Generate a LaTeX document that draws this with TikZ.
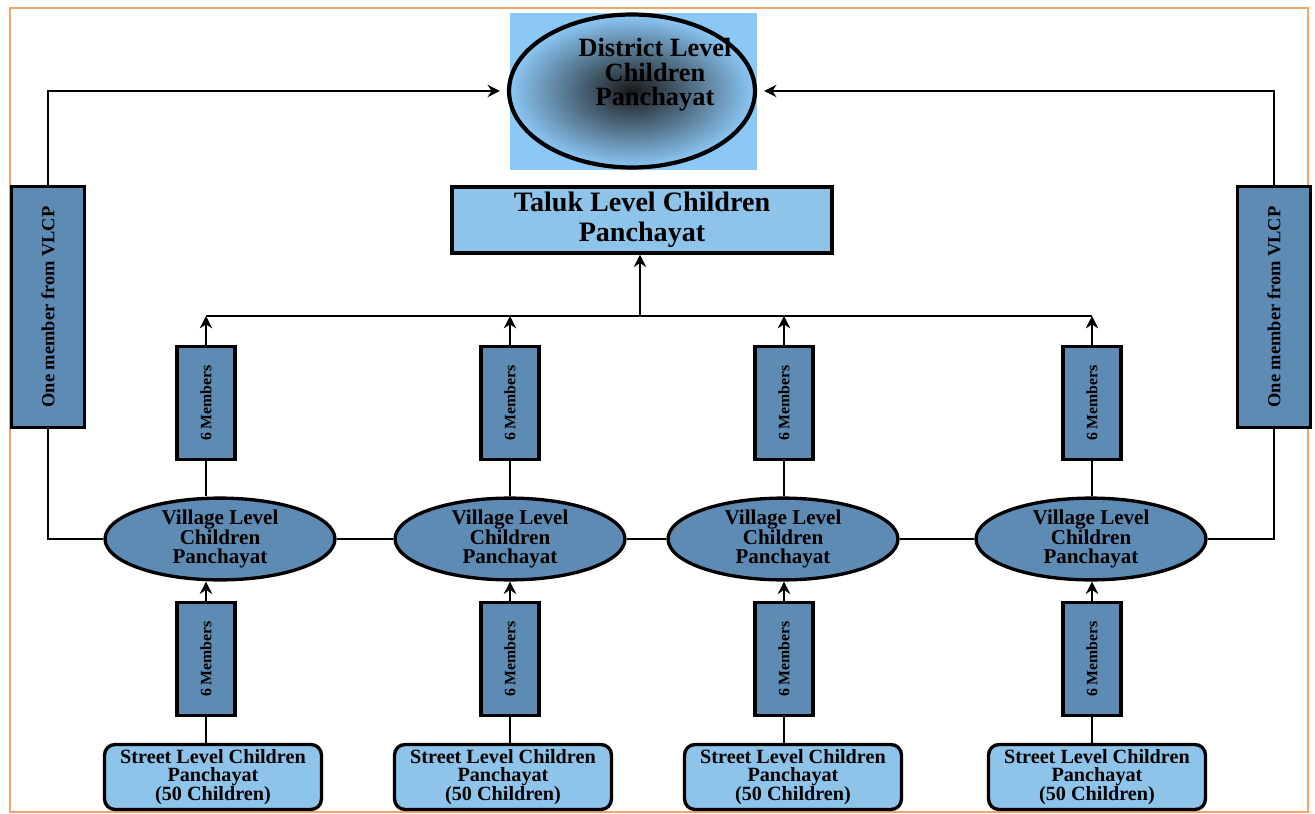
\documentclass[tikz,border=0pt]{standalone}
\usepackage{fontspec}
\setmainfont{Liberation Serif}
\usetikzlibrary{shapes.geometric,arrows.meta}

\definecolor{framecol}{HTML}{F4A46A}
\definecolor{paleblue}{HTML}{8CC8F6}
\definecolor{skyfill}{HTML}{8EC3EA}
\definecolor{steelfill}{HTML}{5E8BB3}

\begin{document}
\begin{tikzpicture}[x=0.02cm,y=-0.02cm,>={Stealth[length=7pt,width=7pt]}]

          \useasboundingbox (0,0) rectangle (1315,814);
          \draw[framecol, line width=0.8pt] (10,8) rectangle (1308,812);
          \fill[paleblue] (510,13) rectangle (757,170);

          \begin{scope}[every node/.style={draw, line width=1.9pt, inner sep=0pt, align=center, font=\bfseries}]
            % district and taluk
            \node[ellipse, line width=2.4pt, minimum width=4.92cm, minimum height=3.06cm,
                  inner color=black!90, outer color=paleblue] (d) at (632,91) {};
            \node[fill=skyfill, minimum width=7.6cm, minimum height=1.32cm,
                  font=\fontsize{16}{17}\bfseries] (t) at (642,220) {Taluk Level Children\\Panchayat};

            % side boxes
            \node[fill=steelfill, minimum width=4.82cm, minimum height=1.46cm, rotate=90,
                  font=\fontsize{10.5}{11}\bfseries] (l) at (48,307) {One member from VLCP};
            \node[fill=steelfill, minimum width=4.82cm, minimum height=1.46cm, rotate=90,
                  font=\fontsize{10.5}{11}\bfseries] (r) at (1274,307) {One member from VLCP};
          \end{scope}

          \begin{scope}[every node/.style={draw, line width=1.9pt, inner sep=0pt, align=center,
                        fill=steelfill, rotate=90, minimum width=2.26cm, minimum height=1.16cm,
                        font=\fontsize{9}{9}\bfseries}]
            \node (u1) at (206,403) {6 Members};
            \node (u2) at (510,403) {6 Members};
            \node (u3) at (784,403) {6 Members};
            \node (u4) at (1092,403) {6 Members};
            \node (w1) at (206,659) {6 Members};
            \node (w2) at (510,659) {6 Members};
            \node (w3) at (784,659) {6 Members};
            \node (w4) at (1092,659) {6 Members};
          \end{scope}

          \begin{scope}[every node/.style={ellipse, draw, line width=1.9pt, inner sep=0pt, align=center,
                        fill=steelfill, minimum width=4.6cm, minimum height=1.56cm,
                        font=\fontsize{12}{11}\bfseries}]
            \node (v1) at (220,539) {Village Level\\Children\\Panchayat};
            \node (v2) at (510,539) {Village Level\\Children\\Panchayat};
            \node (v3) at (783,539) {Village Level\\Children\\Panchayat};
            \node (v4) at (1091,539) {Village Level\\Children\\Panchayat};
          \end{scope}

          \begin{scope}[every node/.style={draw, line width=1.9pt, inner sep=0pt, align=center,
                        rounded corners=6pt, fill=skyfill, minimum width=4.34cm, minimum height=1.3cm,
                        font=\fontsize{11.5}{10.5}\bfseries}]
            \node (s1) at (213,777) {Street Level Children\\Panchayat\\(50 Children)};
            \node (s2) at (503,777) {Street Level Children\\Panchayat\\(50 Children)};
            \node (s3) at (793,777) {Street Level Children\\Panchayat\\(50 Children)};
            \node (s4) at (1097,777) {Street Level Children\\Panchayat\\(50 Children)};
          \end{scope}

          \node[align=center, font=\fontsize{15}{14}\bfseries] (dt) at (655,75) {District Level\\Children\\Panchayat};

          \coordinate (b1) at (206,316);
          \coordinate (b4) at (1092,316);
          \coordinate (bt) at (640,316);

          \begin{scope}[line width=1.6pt]
            \draw (v1.west) -| (l.west);
            \draw (v4.east) -| (r.west);
            \draw[->, shorten >=4pt] (l.east) |- (d.west);
            \draw[->, shorten >=4pt] (r.east) |- (d.east);

            \draw (v1.east) -- (v2.west);
            \draw (v2.east) -- (v3.west);
            \draw (v3.east) -- (v4.west);

            \draw (b1) -- (b4);
            \draw[->] (bt) -- (bt |- t.south);
            \draw[->] (u1.east) -- (u1.east |- b1);
            \draw[->] (u2.east) -- (u2.east |- b1);
            \draw[->] (u3.east) -- (u3.east |- b1);
            \draw[->] (u4.east) -- (u4.east |- b1);

            \draw (u1.west) -- (u1.west |- v1.north);
            \draw (u2.west) -- (u2.west |- v2.north);
            \draw (u3.west) -- (u3.west |- v3.north);
            \draw (u4.west) -- (u4.west |- v4.north);

            \draw[->] (w1.east) -- (w1.east |- v1.south);
            \draw[->] (w2.east) -- (w2.east |- v2.south);
            \draw[->] (w3.east) -- (w3.east |- v3.south);
            \draw[->] (w4.east) -- (w4.east |- v4.south);

            \draw (w1.west) -- (w1.west |- s1.north);
            \draw (w2.west) -- (w2.west |- s2.north);
            \draw (w3.west) -- (w3.west |- s3.north);
            \draw (w4.west) -- (w4.west |- s4.north);
          \end{scope}

        \end{tikzpicture}
\end{document}
